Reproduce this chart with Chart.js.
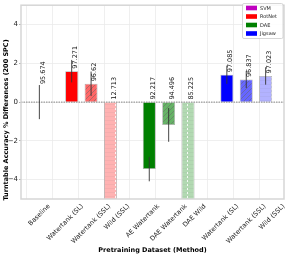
<!DOCTYPE html>
<html><head><meta charset="utf-8">
<script src="https://cdn.jsdelivr.net/npm/chart.js@4.4.1/dist/chart.umd.min.js"></script>
<style>html,body{margin:0;padding:0;background:#fff;}#wrap{width:290px;height:256px;}</style>
</head><body><div id="wrap"><canvas id="c" width="290" height="256"></canvas></div>
<script>
// ---- data ----
const categories = ['Baseline','Watertank (SL)','Watertank (SSL)','Wild (SSL)','AE Watertank','DAE Watertank','DAE Wild','Watertank (SL)','Watertank (SSL)','Wild (SSL)'];
const methods = ['SVM','RotNet','DAE','Jigsaw'];
const methodColors = ['#bf00bf','#ff0000','#008000','#0000ff'];
const variants = ['SL','SSL','Wild'];
// category indices of each method's bars
const svmCats = [0];
const rotnetCats = [1,2,3];
const daeCats = [4,5,6];
const jigsawCats = [7,8,9];
// accuracy difference to baseline (%)
const svmDiff = [0];
const rotnetDiff = [1.597, 0.946, -82.961];
const daeDiff = [-3.457, -1.178, -10.449];
const jigsawDiff = [1.411, 1.163, 1.349];
// error (std)
const svmErr = [0.88];
const rotnetErr = [0.58, 0.63, 4.0];
const daeErr = [0.63, 0.87, 3.0];
const jigsawErr = [0.47, 0.44, 0.45];
// absolute accuracy labels
const svmAcc = ['95.674'];
const rotnetAcc = ['97.271','96.62','12.713'];
const daeAcc = ['92.217','94.496','85.225'];
const jigsawAcc = ['97.085','96.837','97.023'];
const yTicks = [-4,-2,0,2,4];

// ---- styling helpers ----
const FONT = '"DejaVu Sans", sans-serif';
const BAR_SPACING = 0.75; // offset of side bars from group centre (in tick units)
function rgba(hex, a){const n=parseInt(hex.slice(1),16);return `rgba(${n>>16&255},${n>>8&255},${n&255},${a})`;}
function makeFill(color, variant){
  if(variant==='SL') return color;
  const c=document.createElement('canvas');
  if(variant==='SSL'){
    c.width=5;c.height=5;const g=c.getContext('2d');
    g.fillStyle='#fff';g.fillRect(0,0,5,5);
    g.fillStyle=rgba(color,0.6);g.fillRect(0,0,5,5);
    g.strokeStyle='rgba(105,105,105,0.65)';g.lineWidth=0.8;
    g.beginPath();g.moveTo(-1,6);g.lineTo(6,-1);g.moveTo(-1,1);g.lineTo(1,-1);g.moveTo(4,6);g.lineTo(6,4);g.stroke();
  } else {
    c.width=12;c.height=4;const g=c.getContext('2d');
    g.fillStyle='#fff';g.fillRect(0,0,12,4);
    g.fillStyle=rgba(color,0.3);g.fillRect(0,0,12,4);
    g.fillStyle='rgba(120,120,120,0.07)';g.fillRect(0,0,12,1);
    g.fillStyle='rgba(255,255,255,0.85)';g.fillRect(7,0,1,2);
  }
  return document.createElement('canvas').getContext('2d').createPattern(c,'repeat');
}
function positions(cats){
  if(cats.length===1) return [cats[0]];
  const mid=cats[1];
  return cats.map((_,k)=>mid+(k-1)*BAR_SPACING);
}
function makeDataset(mi, cats, diff, err, acc){
  const xs=positions(cats);
  return {
    label: methods[mi],
    data: diff.map((v,i)=>({x:xs[i], y:v})),
    errs: err, accs: acc,
    backgroundColor: diff.map((_,i)=> cats.length===1 ? methodColors[mi] : makeFill(methodColors[mi], variants[i])),
    borderColor: 'rgba(120,120,120,0.6)',
    borderWidth: cats.length===1 ? 0 : 0.8,
    grouped:false, barPercentage:0.667, categoryPercentage:1
  };
}
const datasets=[
  makeDataset(0, svmCats, svmDiff, svmErr, svmAcc),
  makeDataset(1, rotnetCats, rotnetDiff, rotnetErr, rotnetAcc),
  makeDataset(2, daeCats, daeDiff, daeErr, daeAcc),
  makeDataset(3, jigsawCats, jigsawDiff, jigsawErr, jigsawAcc)
];

const overlay={
  id:'overlay',
  afterDatasetsDraw(chart){
    const ctx=chart.ctx, ca=chart.chartArea, ys=chart.scales.y;
    ctx.save();
    ctx.beginPath();ctx.rect(ca.left,ca.top,ca.right-ca.left,ca.bottom-ca.top);ctx.clip();
    // zero line
    const y0=ys.getPixelForValue(0);
    ctx.strokeStyle='#6a6a6a';ctx.lineWidth=0.8;ctx.setLineDash([1.5,1]);
    ctx.beginPath();ctx.moveTo(ca.left,y0);ctx.lineTo(ca.right,y0);ctx.stroke();
    ctx.setLineDash([]);
    // error bars
    ctx.strokeStyle='#333';ctx.lineWidth=0.9;
    chart.data.datasets.forEach((ds,di)=>{
      chart.getDatasetMeta(di).data.forEach((bar,i)=>{
        const v=ds.data[i].y,e=ds.errs[i];
        ctx.beginPath();ctx.moveTo(bar.x,ys.getPixelForValue(v-e));ctx.lineTo(bar.x,ys.getPixelForValue(v+e));ctx.stroke();
      });
    });
    ctx.restore();
    // value labels
    ctx.save();
    ctx.fillStyle='#111';ctx.font='6.5px '+FONT;ctx.textAlign='left';ctx.textBaseline='top';
    chart.data.datasets.forEach((ds,di)=>{
      chart.getDatasetMeta(di).data.forEach((bar,i)=>{
        const v=ds.data[i].y;
        const anchor = v>0 ? v : (v===0 ? ds.errs[i] : 0);
        const py=ys.getPixelForValue(anchor)-(v===0?1:2.5);
        ctx.save();ctx.translate(bar.x+0.3,py);ctx.rotate(-Math.PI/2);ctx.fillText(ds.accs[i],0,0);ctx.restore();
      });
    });
    ctx.restore();
  },
  afterDraw(chart){
    const ctx=chart.ctx, ca=chart.chartArea, xs=chart.scales.x;
    ctx.save();
    // spines
    ctx.strokeStyle='#d6d6d6';ctx.lineWidth=1.5;
    ctx.strokeRect(ca.left,ca.top,ca.right-ca.left,ca.bottom-ca.top);
    // x tick labels, rotated 45, centred on tick
    ctx.fillStyle='#222';ctx.font='6.5px '+FONT;ctx.textAlign='center';ctx.textBaseline='middle';
    categories.forEach((lab,i)=>{
      const w=ctx.measureText(lab).width, h=6.5;
      const half=(w+h)*Math.SQRT1_2/2;
      const px=xs.getPixelForValue(i);
      ctx.save();ctx.translate(px,ca.bottom+4+half);ctx.rotate(-Math.PI/4);ctx.fillText(lab,0,0);ctx.restore();
    });
    // axis titles
    ctx.fillStyle='#000';ctx.font='bold 6.5px '+FONT;
    ctx.fillText('Pretraining Dataset (Method)',(ca.left+ca.right)/2,250);
    ctx.save();ctx.translate(6,120);ctx.rotate(-Math.PI/2);
    ctx.fillText('Turntable Accuracy % Differences (200 SPC)',0,0);ctx.restore();
    // legend
    const lx=242.5, ly=3.5, lw=40.5, lh=35;
    ctx.fillStyle='rgba(255,255,255,0.85)';ctx.strokeStyle='#cccccc';ctx.lineWidth=0.8;
    ctx.beginPath();ctx.roundRect(lx,ly,lw,lh,1.5);ctx.fill();ctx.stroke();
    ctx.font='5px '+FONT;ctx.textAlign='left';ctx.textBaseline='middle';
    methods.forEach((m,i)=>{
      const cy=ly+4.5+i*8.5;
      ctx.fillStyle=methodColors[i];ctx.fillRect(lx+3.5,cy-2.3,11,4.6);
      ctx.fillStyle='#222';ctx.fillText(m,lx+17.5,cy+0.3);
    });
    ctx.restore();
  }
};

new Chart(document.getElementById('c'),{
  type:'bar',
  data:{datasets},
  options:{
    responsive:false,animation:false,events:[],
    layout:{padding:{top:2.5,right:6,left:0,bottom:0}},
    plugins:{legend:{display:false},tooltip:{enabled:false}},
    scales:{
      x:{type:'linear',min:-0.71,max:9.46,offset:false,
        afterBuildTicks(s){s.ticks=categories.map((_,i)=>({value:i}));},
        afterFit(s){s.height=57;},
        ticks:{display:false},
        grid:{color:'#ebebeb',lineWidth:0.8,drawTicks:false},
        border:{display:false}},
      y:{min:-5,max:5,
        afterBuildTicks(s){s.ticks=yTicks.map(v=>({value:v}));},
        afterFit(s){s.width=21;},
        ticks:{font:{size:7,family:FONT},color:'#222',padding:1,
          callback:v=>String(v).replace('-','\u2212')},
        grid:{color:'#ebebeb',lineWidth:0.8,drawTicks:true,tickLength:2,tickColor:'#999'},
        border:{display:false}}
    }
  },
  plugins:[overlay]
});
</script></body></html>
